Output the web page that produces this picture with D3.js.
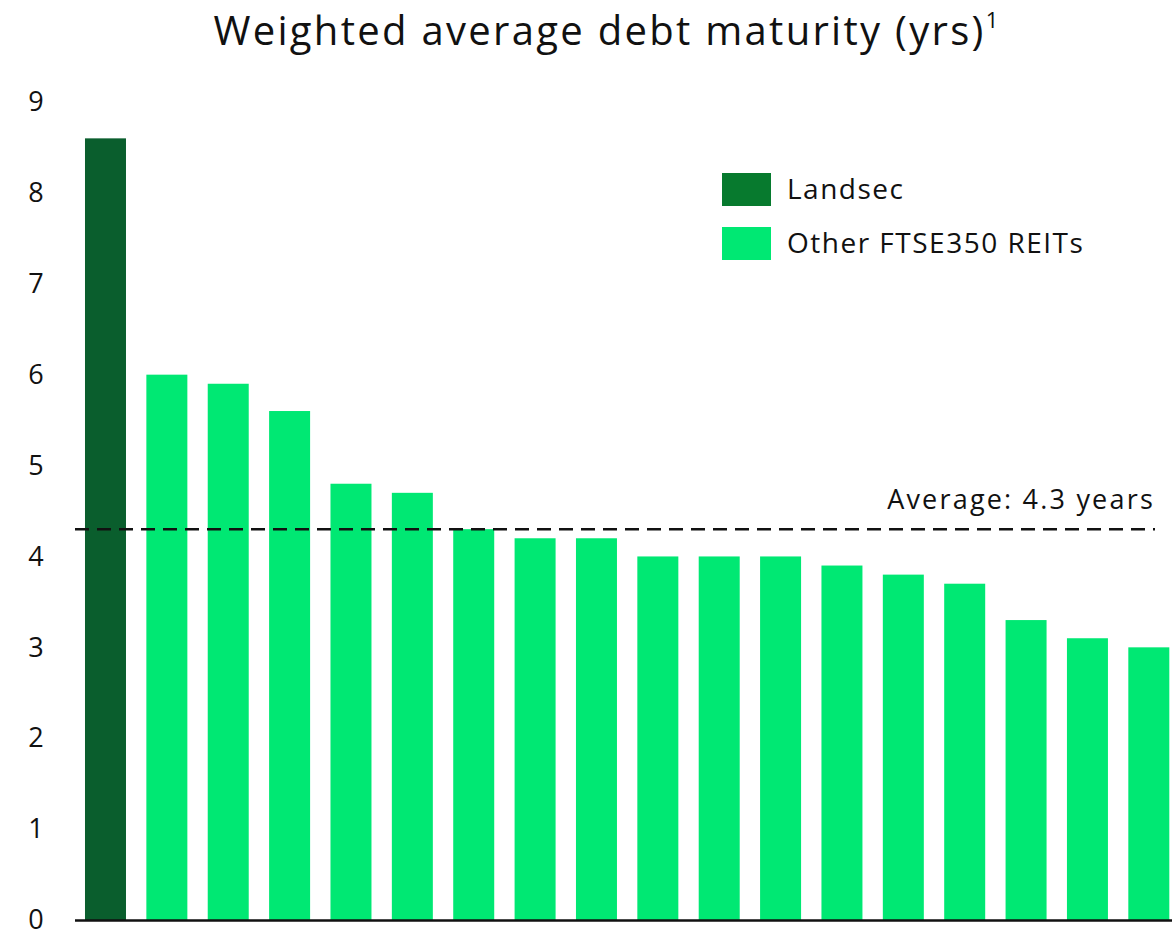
<!DOCTYPE html>
<html><head><meta charset="utf-8">
<script src="https://cdn.jsdelivr.net/npm/d3@7"></script>
<style>body{margin:0;background:#fff;} svg{display:block;font-family:"Open Sans", "Noto Sans", sans-serif;}</style>
</head><body>
<svg id="c" width="1172" height="933"></svg>
<script>
const categories = ["Landsec","R1","R2","R3","R4","R5","R6","R7","R8","R9","R10","R11","R12","R13","R14","R15","R16","R17"];
const values = [8.6,6.0,5.9,5.6,4.8,4.7,4.3,4.2,4.2,4.0,4.0,4.0,3.9,3.8,3.7,3.3,3.1,3.0];
const groups = ["Landsec","Other","Other","Other","Other","Other","Other","Other","Other","Other","Other","Other","Other","Other","Other","Other","Other","Other"];
const yTicks = [0,1,2,3,4,5,6,7,8,9];
const average = 4.3;
const legendItems = ["Landsec","Other FTSE350 REITs"];
const title = "Weighted average debt maturity (yrs)";

const colors = {Landsec:"#0a5e2d", Other:"#00e873"};
const legendColors = ["#077a2e","#00e873"];

const svg = d3.select("#c");
const x = d3.scaleBand().domain(categories).range([74.8,1179.5]).paddingInner(0.332).paddingOuter(0.166);
const y = d3.scaleLinear().domain([0,9]).range([920,102]);

// title
const t = svg.append("text").attr("x",607).attr("y",45).attr("text-anchor","middle")
  .attr("font-size",40).attr("letter-spacing",2.3).attr("fill","#111");
t.append("tspan").text(title);
t.append("tspan").attr("font-size",22).attr("dy",-17).text("1");

// y tick labels
svg.append("g").selectAll("text").data(yTicks).join("text")
  .attr("x",36).attr("y",d=>y(d)).attr("dy","0.34em").attr("text-anchor","middle")
  .attr("font-size",27).attr("fill","#111").text(d=>d);

// bars
svg.append("g").selectAll("rect").data(values).join("rect")
  .attr("x",(d,i)=>x(categories[i])).attr("width",x.bandwidth())
  .attr("y",d=>y(d)).attr("height",d=>y(0)-y(d))
  .attr("fill",(d,i)=>colors[groups[i]]);

// axis line
svg.append("line").attr("x1",75).attr("x2",1172).attr("y1",y(0)+0.5).attr("y2",y(0)+0.5)
  .attr("stroke","#111").attr("stroke-width",2.5);

// average line
svg.append("line").attr("x1",75).attr("x2",1155).attr("y1",y(average)).attr("y2",y(average))
  .attr("stroke","#111").attr("stroke-width",2.6).attr("stroke-dasharray","14,8");
svg.append("text").attr("x",1155).attr("y",509).attr("text-anchor","end")
  .attr("font-size",27).attr("letter-spacing",2.2).attr("fill","#111").text("Average: " + average + " years");

// legend
const lg = svg.append("g").selectAll("g").data(legendItems).join("g")
  .attr("transform",(d,i)=>`translate(722,${173+i*54})`);
lg.append("rect").attr("width",49).attr("height",33).attr("fill",(d,i)=>legendColors[i]);
lg.append("text").attr("x",65).attr("y",26).attr("font-size",28).attr("letter-spacing",1.5)
  .attr("fill","#111").text(d=>d);
</script>
</body></html>
